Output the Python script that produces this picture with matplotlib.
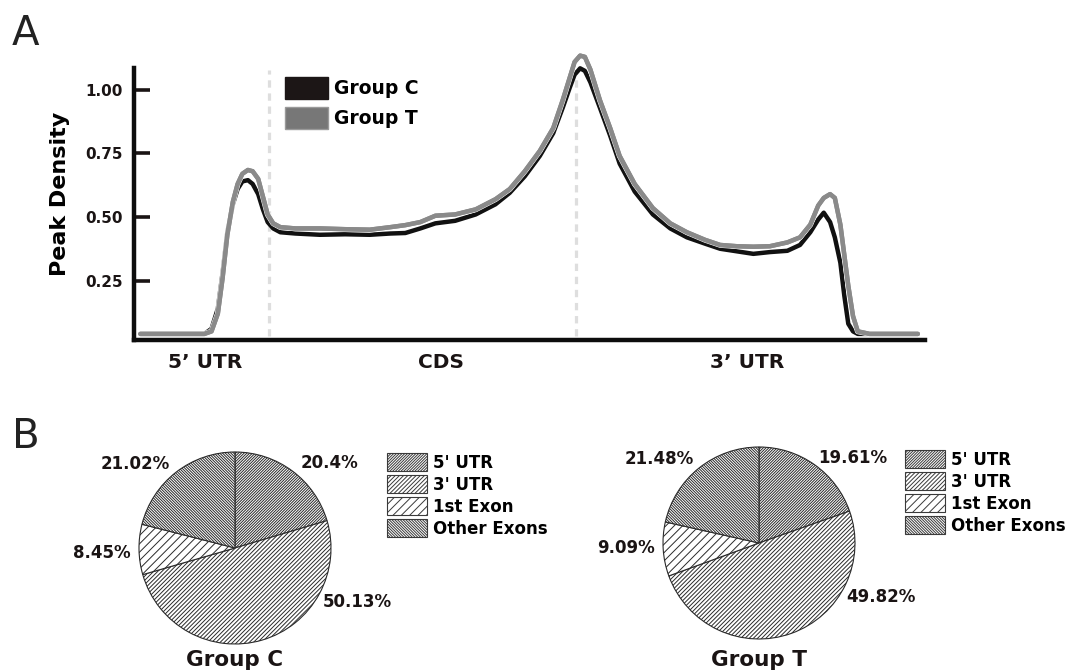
import matplotlib
matplotlib.use("Agg")
import matplotlib.pyplot as plt
from matplotlib.patches import Patch
import matplotlib.patheffects as pe

# ---- data: metagene peak density (position 0-100 along transcript) ----
positions = [0.8, 5.8, 8.9, 9.8, 10.6, 11.2, 11.8, 12.5, 13.1, 13.7, 14.4, 15.0,
             15.7, 16.3, 16.9, 17.6, 18.5, 20.4, 23.5, 26.7, 29.8, 32.4, 34.3,
             36.2, 38.1, 40.6, 43.2, 45.7, 47.5, 49.4, 51.3, 53.0, 54.2, 55.1,
             55.7, 56.4, 57.0, 57.7, 58.9, 60.2, 61.4, 63.3, 65.6, 67.8, 69.9,
             72.2, 74.1, 76.2, 78.3, 80.4, 82.6, 84.2, 85.5, 86.5, 87.2, 88.0,
             88.6, 89.3, 89.8, 90.3, 90.9, 91.5, 93.0, 99.1]
group_c = [0.04, 0.04, 0.04, 0.06, 0.14, 0.28, 0.44, 0.55, 0.61, 0.64, 0.645, 0.63,
           0.59, 0.53, 0.48, 0.455, 0.44, 0.435, 0.43, 0.432, 0.43, 0.435, 0.437,
           0.455, 0.475, 0.485, 0.51, 0.55, 0.595, 0.66, 0.74, 0.83, 0.93, 1.01,
           1.06, 1.085, 1.075, 1.03, 0.93, 0.82, 0.71, 0.60, 0.51, 0.455, 0.42,
           0.395, 0.375, 0.365, 0.355, 0.362, 0.367, 0.39, 0.44, 0.49, 0.517, 0.48,
           0.42, 0.32, 0.19, 0.08, 0.05, 0.04, 0.04, 0.04]
group_t = [0.04, 0.04, 0.04, 0.05, 0.12, 0.26, 0.43, 0.56, 0.63, 0.67, 0.685, 0.68,
           0.65, 0.58, 0.51, 0.475, 0.46, 0.455, 0.455, 0.452, 0.45, 0.46, 0.468,
           0.48, 0.505, 0.51, 0.53, 0.57, 0.61, 0.68, 0.76, 0.85, 0.96, 1.05,
           1.11, 1.135, 1.13, 1.08, 0.96, 0.85, 0.74, 0.63, 0.535, 0.475, 0.44,
           0.41, 0.39, 0.385, 0.383, 0.385, 0.40, 0.42, 0.47, 0.545, 0.575, 0.59,
           0.575, 0.47, 0.35, 0.23, 0.11, 0.05, 0.04, 0.04]
boundaries = [17.1, 55.9]
region_pos = [9.0, 38.8, 77.5]
region_names = ["5\u2019 UTR", "CDS", "3\u2019 UTR"]
y_ticks = [0.25, 0.50, 0.75, 1.00]

# ---- data: peak distribution pies ----
feature_names = ["5' UTR", "3' UTR", "1st Exon", "Other Exons"]
pie_c = [20.4, 50.13, 8.45, 21.02]
pie_t = [19.61, 49.82, 9.09, 21.48]
pie_c_labels = ["20.4%", "50.13%", "8.45%", "21.02%"]
pie_t_labels = ["19.61%", "49.82%", "9.09%", "21.48%"]

hatches = ["/" * 12, "/" * 8, "/" * 4, "\\" * 12]
label_xy = [(0.98, 0.89), (1.27, -0.56), (-1.39, -0.05), (-1.04, 0.88)]

plt.rcParams["hatch.linewidth"] = 0.7
W, H = 1069, 672
fig = plt.figure(figsize=(W / 100, H / 100), dpi=100)

# ---------------- panel A ----------------
ax = fig.add_axes([134 / W, 1 - 340 / H, (925 - 134) / W, (340 - 48) / H])
ax.set_xlim(0, 100)
ax.set_ylim(0.016, 1.165)
for x in boundaries:
    ax.plot([x, x], [0.03, 1.08], color="#dedede", lw=2.3, dashes=(2.3, 1.8), zorder=1)
ax.plot(positions, group_c, color="#111111", lw=3.2, zorder=2,
        solid_capstyle="round", solid_joinstyle="round")
ax.plot(positions, group_t, color="#8a8a8a", lw=3.2, zorder=3,
        solid_capstyle="round", solid_joinstyle="round",
        path_effects=[pe.withStroke(linewidth=4.1, foreground="white"), pe.Normal()])

for s in ["top", "right"]:
    ax.spines[s].set_visible(False)
for s in ["left", "bottom"]:
    ax.spines[s].set_linewidth(3.2)
    ax.spines[s].set_color("#0d0d0d")
ax.spines["left"].set_bounds(0.016, 1.087)
ax.set_yticks(y_ticks)
ax.set_yticklabels(["%.2f" % v for v in y_ticks], fontsize=11, fontweight="bold")
ax.tick_params(axis="y", direction="in", length=11.5, width=2.6, color="#1a1414", pad=8)
ax.set_xticks(region_pos)
ax.set_xticklabels(region_names, fontsize=14.5, fontweight="bold")
ax.tick_params(axis="x", length=0, pad=9)
ax.set_ylabel("Peak Density", fontsize=16, fontweight="bold", labelpad=11)
for lab in ax.get_yticklabels() + ax.get_xticklabels():
    lab.set_color("#1a1414")

fig.legend(handles=[Patch(facecolor="#1c1616", edgecolor="#1c1616", label="Group C"),
                    Patch(facecolor="#777777", edgecolor="#9a9a9a", label="Group T")],
           loc="upper left", bbox_to_anchor=(285 / W, 1 - 77 / H), frameon=False,
           borderpad=0, borderaxespad=0, handlelength=2.3, handleheight=1.4,
           labelspacing=0.45, handletextpad=0.3,
           prop={"size": 13.5, "weight": "bold"})

fig.text(12 / W, 1 - 14 / H, "A", fontsize=29, va="top", ha="left", color="#222222")
fig.text(12 / W, 1 - 417 / H, "B", fontsize=29, va="top", ha="left", color="#222222")


# ---------------- panel B ----------------
def draw_pie(cx, cy, values, labels, title, leg_x, leg_y):
    r = 96
    half = 1.6 * r
    pax = fig.add_axes([(cx - half) / W, 1 - (cy + half) / H, 2 * half / W, 2 * half / H])
    wedges, _ = pax.pie(values, colors=["white"] * 4, startangle=90, counterclock=False,
                        wedgeprops=dict(edgecolor="#2a2a2a", linewidth=0.8))
    for w, h in zip(wedges, hatches):
        w.set_hatch(h)
    for txt, (lx, ly) in zip(labels, label_xy):
        pax.text(lx, ly, txt, fontsize=12, fontweight="bold", ha="center", va="center",
                 color="#1a1414")
    pax.set_xlim(-1.6, 1.6)
    pax.set_ylim(-1.6, 1.6)
    pax.set_aspect("equal")
    pax.axis("off")
    fig.text(cx / W, 1 - 666 / H, title, fontsize=15.5, fontweight="bold", ha="center",
             va="baseline", color="#1a1414")
    handles = [Patch(facecolor="white", edgecolor="#3a3a3a", hatch=h, lw=0.8, label=n)
               for h, n in zip(hatches, feature_names)]
    fig.legend(handles=handles, loc="upper left", bbox_to_anchor=(leg_x / W, 1 - leg_y / H),
               frameon=False, borderpad=0, borderaxespad=0, handlelength=2.4,
               handleheight=1.3, labelspacing=0.2, handletextpad=0.35,
               prop={"size": 12, "weight": "bold"})


draw_pie(235, 548, pie_c, pie_c_labels, "Group C", 387, 453)
draw_pie(759, 543, pie_t, pie_t_labels, "Group T", 905, 450)

fig.savefig("out.png", dpi=100)
